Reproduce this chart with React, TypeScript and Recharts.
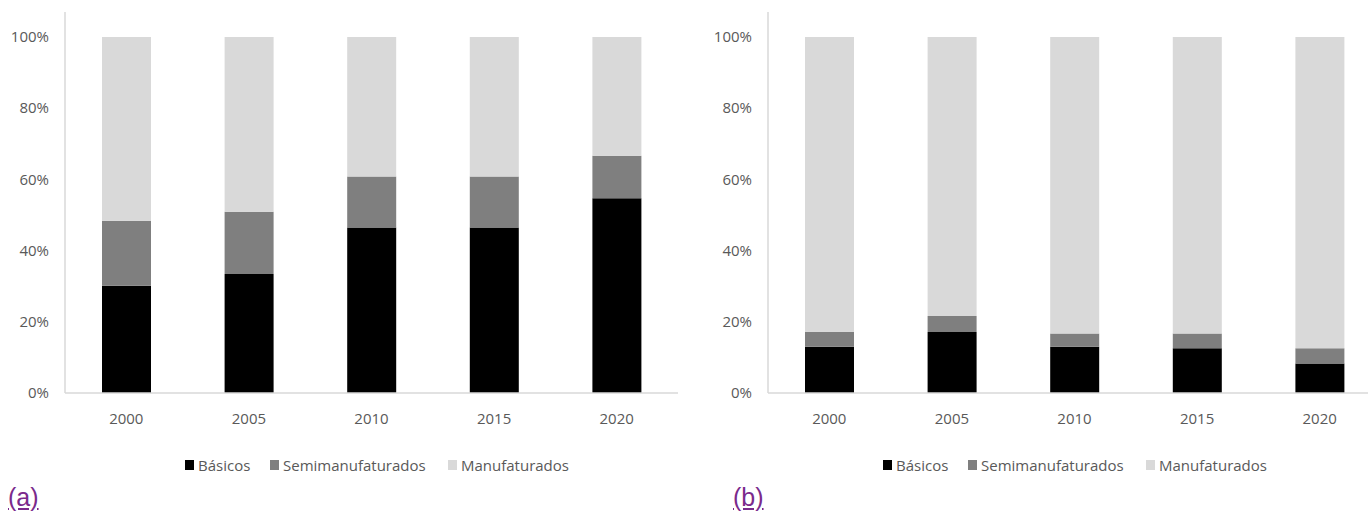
import React from 'react';
import { BarChart, Bar, XAxis, YAxis } from 'recharts';

const years = ['2000', '2005', '2010', '2015', '2020'];
const yTicks = [0, 20, 40, 60, 80, 100];

const basicosA = [30.1, 33.4, 46.5, 46.5, 54.7];
const semiA = [18.3, 17.5, 14.3, 14.3, 11.9];
const manufA = [51.6, 49.1, 39.2, 39.2, 33.4];

const basicosB = [13.0, 17.1, 13.0, 12.6, 8.3];
const semiB = [4.2, 4.5, 3.7, 4.1, 4.3];
const manufB = [82.8, 78.4, 83.3, 83.3, 87.4];

const seriesNames = ['Básicos', 'Semimanufaturados', 'Manufaturados'];
const seriesColors = ['#000000', '#7f7f7f', '#d9d9d9'];
const panelLabels = ['(a)', '(b)'];

const FONT = '"Open Sans", sans-serif';
const TEXT = '#595959';

function buildRows(b: number[], s: number[], m: number[]) {
  return years.map((y, i) => ({ year: y, b: b[i], s: s[i], m: m[i] }));
}

function Panel({ rows, left }: { rows: any[]; left: number }) {
  const keys = ['b', 's', 'm'];
  return (
    <div style={{ position: 'absolute', left, top: 0 }}>
      <BarChart
        width={700}
        height={430}
        data={rows}
        margin={{ top: 12, right: 22, bottom: 0, left: 0 }}
        barSize={49}
      >
        <XAxis
          dataKey="year"
          height={37}
          tickLine={false}
          tickSize={0}
          tickMargin={20}
          axisLine={{ stroke: '#d9d9d9', strokeWidth: 1.5 }}
          tick={{ fill: TEXT, fontSize: 15, fontFamily: FONT }}
        />
        <YAxis
          width={65}
          domain={[0, 107]}
          ticks={yTicks}
          tickFormatter={(v: number) => `${v}%`}
          tickLine={false}
          tickSize={0}
          tickMargin={16}
          axisLine={{ stroke: '#d9d9d9', strokeWidth: 1.5 }}
          tick={{ fill: TEXT, fontSize: 15, fontFamily: FONT }}
          allowDataOverflow
        />
        {keys.map((k, i) => (
          <Bar
            key={k}
            dataKey={k}
            name={seriesNames[i]}
            stackId="a"
            fill={seriesColors[i]}
            isAnimationActive={false}
          />
        ))}
      </BarChart>
    </div>
  );
}

function LegendRow({ left }: { left: number }) {
  const offsets = [0, 85, 263];
  return (
    <div style={{ position: 'absolute', left, top: 455, height: 20 }}>
      {seriesNames.map((n, i) => (
        <div
          key={n}
          style={{
            position: 'absolute',
            left: offsets[i],
            top: 0,
            display: 'flex',
            alignItems: 'center',
            whiteSpace: 'nowrap',
            fontFamily: FONT,
            fontSize: 15,
            color: TEXT,
            lineHeight: '20px',
          }}
        >
          <span
            style={{
              display: 'inline-block',
              width: 9,
              height: 10,
              background: seriesColors[i],
              marginRight: 4,
            }}
          />
          {n}
        </div>
      ))}
    </div>
  );
}

function PanelLabel({ text, left }: { text: string; left: number }) {
  return (
    <div
      style={{
        position: 'absolute',
        left,
        top: 485,
        fontFamily: '"Liberation Sans", Arial, sans-serif',
        fontSize: 25,
        lineHeight: '25px',
        color: '#7b2a8c',
        textDecoration: 'underline',
      }}
    >
      {text}
    </div>
  );
}

export default function App() {
  const rowsA = buildRows(basicosA, semiA, manufA);
  const rowsB = buildRows(basicosB, semiB, manufB);
  return (
    <div
      style={{
        position: 'fixed',
        left: 0,
        top: 0,
        width: 1368,
        height: 515,
        overflow: 'hidden',
        background: '#ffffff',
      }}
    >
      <Panel rows={rowsA} left={0} />
      <Panel rows={rowsB} left={703} />
      <LegendRow left={185} />
      <LegendRow left={883} />
      <PanelLabel text={panelLabels[0]} left={8} />
      <PanelLabel text={panelLabels[1]} left={733} />
    </div>
  );
}
